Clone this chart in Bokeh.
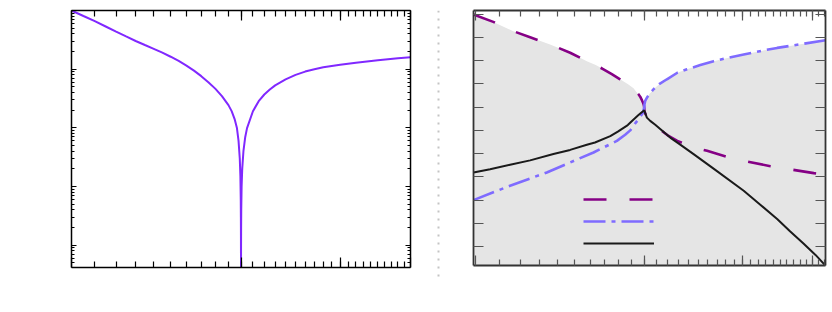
from bokeh.plotting import figure
from bokeh.models import Range1d, FixedTicker, LogAxis, LinearAxis, Span, Legend, LegendItem
from bokeh.layouts import row
from bokeh.embed import file_html
from bokeh.resources import INLINE

# ---------------- data: left panel ----------------
left_x = [10, 10.5, 11, 11.5, 12, 12.5, 13, 13.5, 14, 14.5, 15, 15.5, 16, 16.5, 17, 17.5,
          18, 18.5, 19, 19.25, 19.5, 19.67, 19.8, 19.9, 19.95, 19.98, 19.99, 19.995, 19.998,
          20, 20.002, 20.005, 20.01, 20.02, 20.05, 20.1, 20.2, 20.35, 20.5, 21, 21.5,
          22, 22.5, 23, 24, 25, 26, 27, 28, 30, 32, 35, 38, 40]
left_y = [1.0, 0.806, 0.657, 0.534, 0.435, 0.361, 0.302, 0.258, 0.222, 0.191, 0.163, 0.138,
          0.115, 0.0943, 0.076, 0.060, 0.0466, 0.0347, 0.0244, 0.0193, 0.0138, 0.0099, 0.006,
          0.003, 0.0015, 0.0006, 0.0003, 0.00015, 0.00006, 1e-9, 0.00004, 0.0001, 0.0002,
          0.0004, 0.001, 0.002, 0.004, 0.007, 0.0099, 0.0192, 0.0285, 0.037, 0.045, 0.053,
          0.067, 0.080, 0.091, 0.100, 0.108, 0.119, 0.129, 0.142, 0.154, 0.16]

left_x_major = [10, 20, 30, 40]
left_x_minor = list(range(11, 40))
left_y_major = [1e-4, 1e-3, 1e-2, 1e-1, 1.0]
left_y_minor = [m * 10.0 ** e for e in range(-5, 0) for m in range(2, 10)]

# ---------------- data: right panel ----------------
purple_x = [9.9, 10.74, 11.66, 12.5, 13.57, 14.74, 15.79, 16.38, 16.91, 17.5, 18.11, 18.71,
            19.14, 19.35, 19.54, 19.67, 19.81, 19.92, 19.97, 20.0,
            20.02, 20.08, 20.25, 20.5, 21.08, 21.55, 22.11, 22.92, 23.85, 24.82, 25.91,
            28.13, 30.55, 33.64, 36.52, 40.21, 42.2]
purple_y = [9.99, 9.67, 9.27, 9.01, 8.70, 8.34, 7.98, 7.81, 7.63, 7.42, 7.20, 6.99,
            6.81, 6.66, 6.55, 6.45, 6.30, 6.17, 6.08, 5.98,
            5.84, 5.73, 5.56, 5.41, 5.19, 4.96, 4.76, 4.55, 4.38, 4.24, 4.12,
            3.86, 3.66, 3.46, 3.32, 3.16, 3.09]

blue_x = [9.9, 11.51, 13.39, 16.23, 17.87, 18.49, 18.88, 19.19, 19.43, 19.67, 19.88, 20.0,
          20.02, 20.08, 20.25, 20.42, 20.78, 21.27, 21.96, 22.92, 23.85, 25.2, 26.62, 28.3,
          30.13, 32.2, 34.58, 38.1, 42.2]
blue_y = [2.0, 2.62, 3.19, 4.05, 4.55, 4.81, 5.0, 5.24, 5.41, 5.58, 5.75, 5.98,
          6.11, 6.27, 6.43, 6.56, 6.77, 6.99, 7.20, 7.48, 7.63, 7.81, 7.98, 8.13,
          8.27, 8.41, 8.55, 8.71, 8.88]

black_x = [9.9, 10.6, 11.51, 12.5, 13.76, 14.74, 15.79, 16.33, 17.39, 17.94, 18.69, 19.1,
           19.51, 19.75, 20.0, 20.22, 20.5, 20.93, 21.36, 22.26, 23.2, 24.51, 26.8, 30.13,
           32.3, 34.58, 36.5, 38.58, 40.5, 42.2]
black_y = [3.19, 3.33, 3.52, 3.71, 3.98, 4.16, 4.38, 4.48, 4.75, 4.95, 5.23, 5.45,
           5.65, 5.76, 5.86, 5.55, 5.41, 5.24, 5.06, 4.69, 4.39, 3.98, 3.30, 2.40,
           1.79, 1.19, 0.65, 0.12, -0.36, -0.82]

right_x_major = [10, 20, 30, 40]
right_x_minor = list(range(11, 43))
right_y_major = list(range(0, 11))
split_x = 20.0
fill_base = -1.0


def style_axes(p, color, width, tick_color):
    for ax in p.axis:
        ax.axis_line_color = color
        ax.axis_line_width = width
        ax.major_tick_line_color = tick_color
        ax.minor_tick_line_color = tick_color
        ax.major_tick_line_width = 1.2
        ax.minor_tick_line_width = 1.2
        ax.major_tick_out = 0
        ax.minor_tick_out = 0
        ax.major_label_text_font_size = "0px"
        ax.major_label_text_color = None
        ax.major_label_standoff = 0
        ax.axis_label = None


# ---------------- left figure ----------------
p1 = figure(frame_width=339, frame_height=257, x_axis_type="log", y_axis_type="log",
            x_range=Range1d(10, 40), y_range=Range1d(4.17e-5, 1.0),
            min_border_left=71, min_border_right=12, min_border_top=9, min_border_bottom=30,
            output_backend="svg", toolbar_location=None)
p1.add_layout(LogAxis(), "above")
p1.add_layout(LogAxis(), "right")
p1.grid.visible = False
p1.outline_line_color = None
style_axes(p1, "black", 1.5, "black")
xt1 = FixedTicker(ticks=left_x_major, minor_ticks=left_x_minor)
yt1 = FixedTicker(ticks=left_y_major, minor_ticks=left_y_minor)
for ax in p1.xaxis:
    ax.ticker = xt1
    ax.major_tick_in = 10
    ax.minor_tick_in = 6
for ax in p1.yaxis:
    ax.ticker = yt1
    ax.major_tick_in = 5
    ax.minor_tick_in = 3
p1.line(left_x, left_y, line_color="#8028ff", line_width=2)

# ---------------- separator ----------------
sep = figure(width=32, height=308, x_range=Range1d(0, 1), y_range=Range1d(0, 1),
             min_border_left=0, min_border_right=0, min_border_top=0, min_border_bottom=0,
             output_backend="svg", toolbar_location=None)
sep.xaxis.visible = False
sep.yaxis.visible = False
sep.grid.visible = False
sep.outline_line_color = None
sep.add_layout(Span(location=0.5, dimension="height", line_color="#c4c4c4",
                    line_width=2, line_dash="2 6"))

# ---------------- right figure ----------------
p2 = figure(frame_width=352, frame_height=255, x_axis_type="log",
            x_range=Range1d(9.9, 42.2), y_range=Range1d(-0.815, 10.16),
            min_border_left=19, min_border_right=5, min_border_top=10, min_border_bottom=31,
            output_backend="svg", toolbar_location=None)
p2.add_layout(LogAxis(), "above")
p2.add_layout(LinearAxis(), "right")
p2.grid.visible = False
p2.outline_line_color = None
style_axes(p2, "#333333", 1.8, "#555555")
xt2 = FixedTicker(ticks=right_x_major, minor_ticks=right_x_minor)
yt2 = FixedTicker(ticks=right_y_major, minor_ticks=[])
for ax in p2.xaxis:
    ax.ticker = xt2
    ax.major_tick_in = 10
    ax.minor_tick_in = 6
for ax in p2.yaxis:
    ax.ticker = yt2
    ax.major_tick_in = 10
    ax.minor_tick_in = 0

env_x = [x for x in purple_x if x <= split_x] + [x for x in blue_x if x > split_x]
env_y = [y for x, y in zip(purple_x, purple_y) if x <= split_x] + \
        [y for x, y in zip(blue_x, blue_y) if x > split_x]
p2.varea(x=env_x, y1=[fill_base] * len(env_x), y2=env_y, fill_color="#e5e5e5")

r_purple = p2.line(purple_x, purple_y, line_color="#850085", line_width=2.6, line_dash="23 23")
r_blue = p2.line(blue_x, blue_y, line_color="#7f6bff", line_width=2.6, line_dash="22 6 4 6")
r_black = p2.line(black_x, black_y, line_color="#1a1a1a", line_width=2)

legend = Legend(items=[LegendItem(label=" ", renderers=[r_purple]),
                       LegendItem(label=" ", renderers=[r_blue]),
                       LegendItem(label=" ", renderers=[r_black])],
                location=(110, 11), padding=0, margin=0, spacing=0,
                glyph_width=71, glyph_height=22, label_height=22,
                label_text_font_size="10px", label_text_color=None,
                border_line_color=None, background_fill_alpha=0)
p2.add_layout(legend)

layout = row(p1, sep, p2)
open("out.html", "w").write(file_html(layout, INLINE))
